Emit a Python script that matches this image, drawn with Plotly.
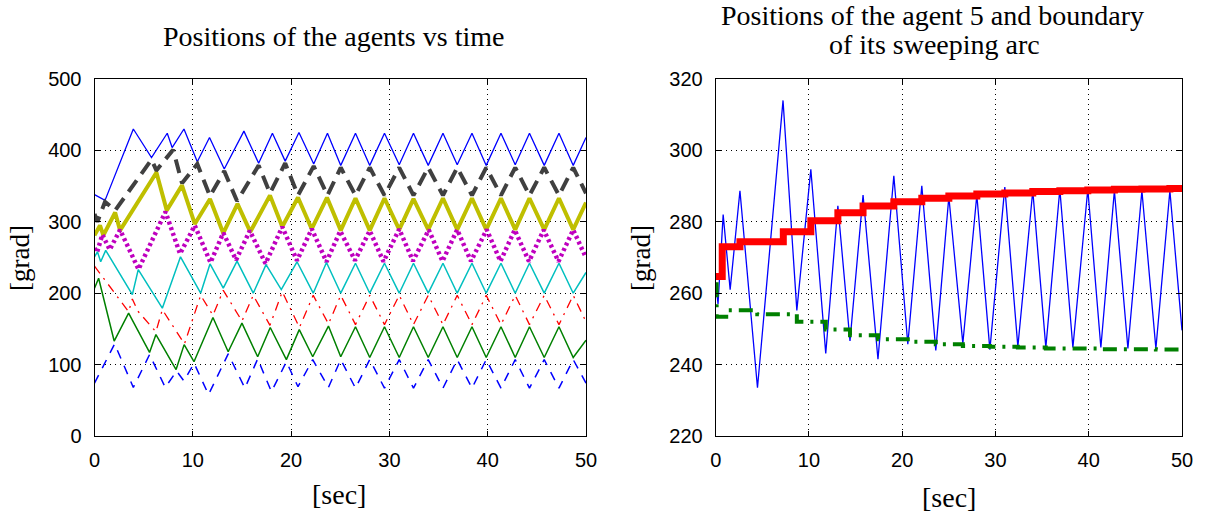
import plotly.graph_objects as go

# ---------------- Left plot: positions of the 8 agents ----------------
blue_t = [0, 1.07, 3.95, 5.8, 7.4, 7.9, 9.1, 10.46, 11.7, 13.2, 15.2, 16.7, 18.1, 19.4, 20.8, 22.3, 23.7,
          25.05, 26.55, 28.0, 29.5, 31.0, 32.45, 33.95, 35.45, 36.9, 38.4, 39.85, 41.35, 42.8, 44.25, 45.75, 47.25, 48.7, 50]
blue_v = [338, 330, 430, 390, 424, 404, 430, 384, 418, 374, 427, 382, 424, 385, 425, 381, 424,
          379, 424, 379, 424, 380, 424, 379, 424, 380, 424, 379, 424, 380, 424, 379, 424, 379, 418]

gray_t = [0, 0.3, 1.07, 2.1, 5.8, 6.3, 8.0, 8.9, 10.46, 11.75, 13.2, 14.5, 16.7, 17.85, 19.4, 20.7, 22.3, 23.7,
          25.05, 26.55, 28.0, 29.5, 31.0, 32.45, 33.95, 35.45, 36.9, 38.4, 39.85, 41.35, 42.8, 44.25, 45.75, 47.25, 48.7, 50]
gray_v = [311, 300, 328, 316, 387, 372, 401, 354, 381, 336, 371, 329, 379, 340, 382, 337, 378, 337,
          376, 337, 376, 337, 376, 337, 376, 337, 376, 337, 376, 337, 376, 337, 376, 337, 376, 340]

yellow_t = [0, 0.56, 0.9, 2.1, 2.6, 6.3, 7.35, 8.9, 10.2, 11.75, 13.1, 14.55, 15.85, 17.85, 19.1, 20.7, 22.1, 23.65,
            25.05, 26.55, 28.0, 29.5, 31.0, 32.45, 33.95, 35.45, 36.9, 38.4, 39.85, 41.35, 42.8, 44.25, 45.75, 47.25, 48.7, 50]
yellow_v = [281, 295, 281, 313, 288, 369, 316, 351, 297, 332, 284, 325, 286, 337, 293, 334, 290, 334,
            288, 333, 288, 333, 289, 332, 289, 333, 289, 333, 289, 333, 289, 333, 289, 333, 289, 327]

# agent 5 (magenta on the left, blue on the right)
agent5_t = [0, 0.25, 0.8, 1.55, 2.6, 4.48, 7.22, 8.7, 10.2, 11.8, 13.1, 14.4, 15.8, 17.4, 19.1, 20.6, 22.1, 23.6,
            25.0, 26.5, 28.0, 29.4, 31.0, 32.4, 34.0, 35.4, 36.9, 38.3, 39.9, 41.3, 42.75, 44.2, 45.7, 47.2, 48.7, 50]
agent5_v = [263, 257, 282, 261, 288.7, 233.5, 314, 255.2, 294.7, 243.1, 284.5, 246.6, 287.5, 241.5, 292.9, 245.7, 290.1, 244,
            287, 245.9, 287.5, 244.2, 289.7, 245, 288.7, 244.8, 289.1, 244.8, 289.1, 244.8, 288.7, 244.5, 288.7, 244.5, 288.7, 249.6]

cyan_t = [0, 0.3, 0.63, 1.14, 3.85, 4.45, 6.9, 8.75, 10.8, 11.75, 13.1, 14.5, 16.15, 17.45, 19.0, 20.6, 22.25, 23.6,
          25.05, 26.55, 28.0, 29.5, 31.0, 32.45, 33.95, 35.45, 36.9, 38.4, 39.85, 41.35, 42.8, 44.25, 45.75, 47.25, 48.7, 50]
cyan_v = [251, 258, 244, 260, 198, 233, 179, 251, 200, 241, 207, 245, 200, 240, 205, 244, 200, 243,
          200, 242, 200, 242, 200, 242, 200, 242, 200, 242, 200, 242, 200, 242, 200, 242, 200, 229]

red_t = [0, 3.47, 3.85, 4.4, 6.25, 6.9, 9.15, 10.8, 12.05, 13.1, 15.0, 16.15, 17.85, 19.1, 20.85, 22.25, 23.8,
         25.05, 26.55, 28.0, 29.5, 31.0, 32.45, 33.95, 35.45, 36.9, 38.4, 39.85, 41.35, 42.8, 44.25, 45.75, 47.25, 48.7, 50]
red_v = [238, 174, 192, 175, 146, 177, 129, 197, 169, 204, 161, 197, 155, 202, 152, 197, 157,
         197, 156, 197, 156, 197, 156, 197, 156, 197, 156, 197, 156, 197, 156, 197, 156, 197, 160]

green_t = [0, 0.42, 2.0, 3.47, 5.6, 6.25, 8.3, 9.12, 10.12, 12.05, 13.6, 15.0, 16.6, 17.88, 19.52, 20.83, 22.2, 23.8,
           25.05, 26.55, 28.0, 29.5, 31.0, 32.45, 33.95, 35.45, 36.9, 38.4, 39.85, 41.35, 42.8, 44.25, 45.75, 47.25, 48.7, 50]
green_v = [207, 221, 133, 172, 117, 142, 93, 128, 104, 166, 118, 158, 111, 152, 107, 149, 111, 154,
           111, 153, 110, 153, 110, 153, 110, 153, 110, 153, 110, 153, 110, 153, 110, 153, 110, 134]

bdash_t = [0, 2.05, 3.95, 5.6, 7.2, 8.35, 9.1, 10.13, 11.6, 13.6, 15.3, 16.6, 18.0, 19.52, 20.7, 22.2, 23.8,
           25.05, 26.55, 28.0, 29.5, 31.0, 32.45, 33.95, 35.45, 36.9, 38.4, 39.85, 41.35, 42.8, 44.25, 45.75, 47.25, 48.7, 50]
bdash_v = [74, 129, 68, 114, 68, 91, 77, 102, 58, 115, 67, 108, 62, 104, 69, 107, 68,
           107, 67, 107, 67, 107, 67, 107, 67, 107, 67, 107, 67, 107, 67, 107, 67, 107, 74]

# ---------------- Right plot: boundaries of the sweeping arc ----------------
upper_t = [0, 0.7, 2.6, 7.25, 10.2, 13.1, 15.8, 19.1, 22.1, 25.0, 28.0, 31.0, 34.0, 36.9, 39.9, 42.75, 45.7, 48.7, 50]
upper_v = [264.7, 273, 274.4, 277.2, 280.3, 282.5, 284.4, 285.6, 286.6, 287.2, 287.8, 288.1, 288.5, 288.7, 288.9,
           289.1, 289.2, 289.3, 289.3]
lower_t = [0, 0.1, 1.4, 4.46, 8.7, 11.8, 14.4, 17.4, 20.6, 23.6, 26.5, 29.4, 32.4, 35.4, 38.3, 41.3, 44.2, 47.2, 50]
lower_v = [262.5, 253.4, 255.2, 254.1, 252.0, 249.8, 248.2, 247.1, 246.4, 245.7, 245.2, 245.0, 244.8, 244.5, 244.5,
           244.3, 244.3, 244.2, 244.2]

left_yticks = [0, 100, 200, 300, 400, 500]
right_yticks = [220, 240, 260, 280, 300, 320]
xticks = [0, 10, 20, 30, 40, 50]

fig = go.Figure()

def add(x, y, color, width, dash, xa="x", ya="y", shape="linear"):
    fig.add_trace(go.Scatter(x=x, y=y, mode="lines", xaxis=xa, yaxis=ya,
                             line=dict(color=color, width=width, dash=dash, shape=shape),
                             showlegend=False, hoverinfo="skip"))

add(blue_t, blue_v, "#0000FF", 1.3, "solid")
add(gray_t, gray_v, "#404040", 4, "14px,8px")
add(yellow_t, yellow_v, "#BFBF00", 4, "solid")
add(agent5_t, agent5_v, "#BF00BF", 4.5, "3px,3px")
add(cyan_t, cyan_v, "#00BFBF", 1.5, "solid")
add(red_t, red_v, "#FF0000", 1.3, "9px,6px,2px,6px")
add(green_t, green_v, "#008000", 1.5, "solid")
add(bdash_t, bdash_v, "#0000FF", 1.5, "9px,8px")

add(agent5_t, agent5_v, "#0000FF", 1.3, "solid", "x2", "y2")
add(upper_t, upper_v, "#FF0000", 7, "solid", "x2", "y2", "hv")
add(lower_t, lower_v, "#008000", 4, "14px,7px,3px,7px", "x2", "y2", "hv")

# the page body margin is removed (see post_script), so the figure fills the window from (0, 0)
W, H = 1212, 521
def px(sx):
    return sx / W
def py(sy):
    return 1 - sy / H

ax_font = dict(family="Liberation Sans, Arial, sans-serif", size=20, color="black")
common = dict(showline=True, linecolor="black", linewidth=1, mirror="ticks", ticks="inside", ticklen=5,
              tickcolor="black", showgrid=True, gridcolor="black", gridwidth=1, griddash="1px,4px",
              zeroline=False, tickfont=ax_font, automargin=False)

fig.update_layout(
    width=W, height=H, margin=dict(l=0, r=0, t=0, b=0),
    paper_bgcolor="white", plot_bgcolor="white",
    xaxis=dict(domain=[px(94.5), px(586)], range=[0, 50], tickvals=xticks, anchor="y",
               ticklabelstandoff=6, **common),
    yaxis=dict(domain=[py(436), py(79)], range=[0, 500], tickvals=left_yticks, anchor="x",
               ticklabelstandoff=8, **common),
    xaxis2=dict(domain=[px(715.7), px(1182)], range=[0, 50], tickvals=xticks, anchor="y2",
                ticklabelstandoff=6, **common),
    yaxis2=dict(domain=[py(436), py(79)], range=[220, 320], tickvals=right_yticks, anchor="x2",
                ticklabelstandoff=8, **common),
)

serif = "Liberation Serif, Times New Roman, serif"
ann = [
    dict(x=333.5, y=36, text="Positions of the agents vs time", size=28, angle=0),
    dict(x=932, y=15, text="Positions of the agent 5 and boundary", size=28, angle=0),
    dict(x=934, y=44, text="of its sweeping arc", size=28, angle=0),
    dict(x=20, y=258, text="[grad]", size=27, angle=-90),
    dict(x=641, y=258, text="[grad]", size=27, angle=-90),
    dict(x=339, y=494, text="[sec]", size=28, angle=0),
    dict(x=949, y=497, text="[sec]", size=28, angle=0),
]
for a in ann:
    fig.add_annotation(x=px(a["x"]), y=py(a["y"]), xref="paper", yref="paper", text=a["text"], showarrow=False,
                       textangle=a["angle"], xanchor="center", yanchor="middle",
                       font=dict(family=serif, size=a["size"], color="black"))

fig.write_html("out.html", config={"displayModeBar": False},
               post_script="document.body.style.margin='0px'; document.body.style.overflow='hidden';")
